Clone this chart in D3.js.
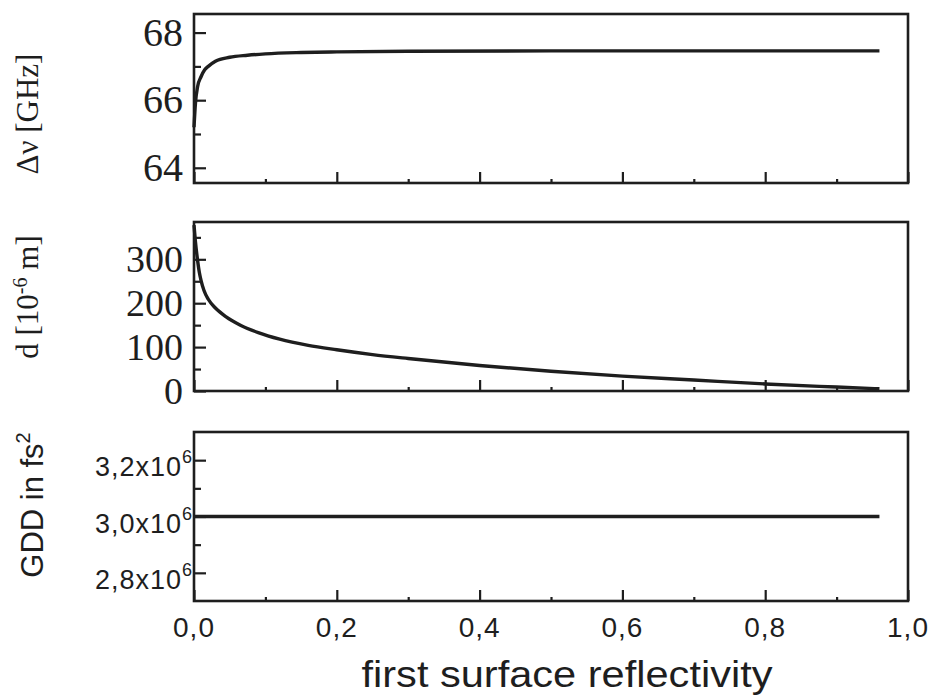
<!DOCTYPE html>
<html>
<head>
<meta charset="utf-8">
<script src="https://cdn.jsdelivr.net/npm/d3@7/dist/d3.min.js"></script>
<style>
  body{margin:0;background:#fff}
  svg{display:block}
</style>
</head>
<body>
<div id="chart"></div>
<script>
// shared x axis: first surface reflectivity
var xTicks = [0, 0.2, 0.4, 0.6, 0.8, 1.0]
var xMinor = [0.1, 0.3, 0.5, 0.7, 0.9]
var xTickLabels = ['0,0', '0,2', '0,4', '0,6', '0,8', '1,0']

// top panel: delta nu [GHz]
var nuX = [0, 0.002, 0.005, 0.01, 0.015, 0.02, 0.03, 0.05, 0.075, 0.1, 0.15, 0.2, 0.3, 0.5, 0.7, 0.96]
var nuY = [65.2, 65.9, 66.4, 66.7, 66.9, 67.0, 67.15, 67.27, 67.33, 67.37, 67.41, 67.43, 67.45, 67.46, 67.46, 67.46]
var nuTicks = [64, 66, 68]
var nuMinor = [65, 67]
var nuTickLabels = ['64', '66', '68']

// middle panel: d [10^-6 m]
var dX = [0, 0.002, 0.005, 0.0075, 0.01, 0.014, 0.02, 0.03, 0.045, 0.065, 0.09, 0.12, 0.16, 0.2, 0.25, 0.3, 0.4, 0.5, 0.6, 0.7, 0.8, 0.9, 0.96]
var dY = [378, 340, 298, 270, 251, 229, 209, 189, 169, 150, 133, 118, 104, 94, 83, 74, 58, 45, 34, 25, 16, 9, 5]
var dTicks = [0, 100, 200, 300]
var dMinor = [50, 150, 250, 350]
var dTickLabels = ['0', '100', '200', '300']

// bottom panel: GDD in fs^2 (units of 10^6)
var gddX = [0, 0.96]
var gddY = [3.0, 3.0]
var gddTicks = [2.8, 3.0, 3.2]
var gddMinor = [2.9, 3.1]
var gddTickLabels = ['2,8', '3,0', '3,2']

var W = 933, H = 695
var L = 194, R = 908
var ink = '#1e1e1e'
var serif = '"Liberation Serif", "DejaVu Serif", serif'
var sans = '"Liberation Sans", Arial, sans-serif'

var svg = d3.select('#chart').append('svg')
  .attr('width', W).attr('height', H)
  .style('background', '#fff')

var x = d3.scaleLinear().domain([0, 1]).range([L, R])

// draws frame, inward ticks and the curve of one panel
function panel(top, bot, domain, ticks, minor, xs, ys){
  var y = d3.scaleLinear().domain(domain).range([bot, top])
  var g = svg.append('g').attr('color', ink)

  g.append('g').attr('transform', 'translate(' + L + ',0)')
    .call(d3.axisLeft(y).tickValues(ticks).tickSize(-12).tickFormat(''))
  g.append('g').attr('transform', 'translate(' + L + ',0)')
    .call(d3.axisLeft(y).tickValues(minor).tickSize(-7).tickFormat(''))
  g.append('g').attr('transform', 'translate(0,' + bot + ')')
    .call(d3.axisBottom(x).tickValues(xTicks).tickSize(-11).tickFormat(''))
  g.append('g').attr('transform', 'translate(0,' + bot + ')')
    .call(d3.axisBottom(x).tickValues(xMinor).tickSize(-4).tickFormat(''))
  g.selectAll('.domain').remove()
  g.selectAll('.tick line').attr('stroke-width', 2.2)

  g.append('rect')
    .attr('x', L).attr('y', top)
    .attr('width', R - L).attr('height', bot - top)
    .attr('fill', 'none').attr('stroke', ink).attr('stroke-width', 2.6)

  var line = d3.line()
    .x(function(d){ return x(d[0]) })
    .y(function(d){ return y(d[1]) })
    .curve(d3.curveMonotoneX)
  g.append('path')
    .datum(d3.zip(xs, ys))
    .attr('d', line)
    .attr('fill', 'none')
    .attr('stroke', ink)
    .attr('stroke-width', 3.4)
    .attr('stroke-linejoin', 'round')

  return {y: y, g: g}
}

//top panel
var p1 = panel(14, 183, [63.55, 68.55], nuTicks, nuMinor, nuX, nuY)
p1.g.selectAll('.lab').data(nuTicks).enter().append('text')
  .attr('x', 183).attr('y', function(d){ return p1.y(d) })
  .attr('dy', '0.33em')
  .attr('text-anchor', 'end')
  .style('font-family', serif).style('font-size', '40px').attr('fill', ink)
  .text(function(d, i){ return nuTickLabels[i] })
p1.g.append('text')
  .attr('transform', 'translate(38,114) rotate(-90)')
  .attr('text-anchor', 'middle')
  .style('font-family', serif).style('font-size', '31px').attr('fill', ink)
  .text('\u0394\u03bd [GHz]')

//middle panel
var p2 = panel(222, 391, [0, 385], dTicks, dMinor, dX, dY)
p2.g.selectAll('.lab').data(dTicks).enter().append('text')
  .attr('x', 183).attr('y', function(d){ return p2.y(d) })
  .attr('dy', '0.33em')
  .attr('text-anchor', 'end')
  .style('font-family', serif).style('font-size', '38px').attr('fill', ink)
  .text(function(d, i){ return dTickLabels[i] })
var dt = p2.g.append('text')
  .attr('transform', 'translate(38,297) rotate(-90)')
  .attr('text-anchor', 'middle')
  .style('font-family', serif).style('font-size', '31px').attr('fill', ink)
dt.append('tspan').text('d [10')
dt.append('tspan').attr('dy', -11).style('font-size', '20px').text('-6')
dt.append('tspan').attr('dy', 11).text(' m]')

//bottom panel
var p3 = panel(432, 601, [2.7, 3.3], gddTicks, gddMinor, gddX, gddY)
p3.g.selectAll('.lab').data(gddTicks).enter().append('text')
  .attr('x', 193).attr('y', function(d){ return p3.y(d) + 16 })
  .attr('text-anchor', 'end')
  .style('font-family', sans).style('font-size', '27px')
  .style('letter-spacing', '1px').attr('fill', ink)
  .each(function(d, i){
    var t = d3.select(this)
    t.append('tspan').text(gddTickLabels[i] + 'x10')
    t.append('tspan').attr('dy', -13).style('font-size', '18px').text('6')
  })
var gt = p3.g.append('text')
  .attr('transform', 'translate(43,505) rotate(-90)')
  .attr('text-anchor', 'middle')
  .style('font-family', sans).style('font-size', '31px').attr('fill', ink)
gt.append('tspan').text('GDD in fs')
gt.append('tspan').attr('dy', -13).style('font-size', '20px').text('2')

// x tick labels and title
svg.selectAll('.xlab').data(xTicks).enter().append('text')
  .attr('x', function(d){ return x(d) }).attr('y', 637)
  .attr('text-anchor', 'middle')
  .style('font-family', sans).style('font-size', '28px')
  .style('letter-spacing', '1px').attr('fill', ink)
  .text(function(d, i){ return xTickLabels[i] })
svg.append('text')
  .attr('x', 567).attr('y', 687)
  .attr('text-anchor', 'middle')
  .attr('textLength', 411).attr('lengthAdjust', 'spacingAndGlyphs')
  .style('font-family', sans).style('font-size', '36px').attr('fill', ink)
  .text('first surface reflectivity')
</script>
</body>
</html>
